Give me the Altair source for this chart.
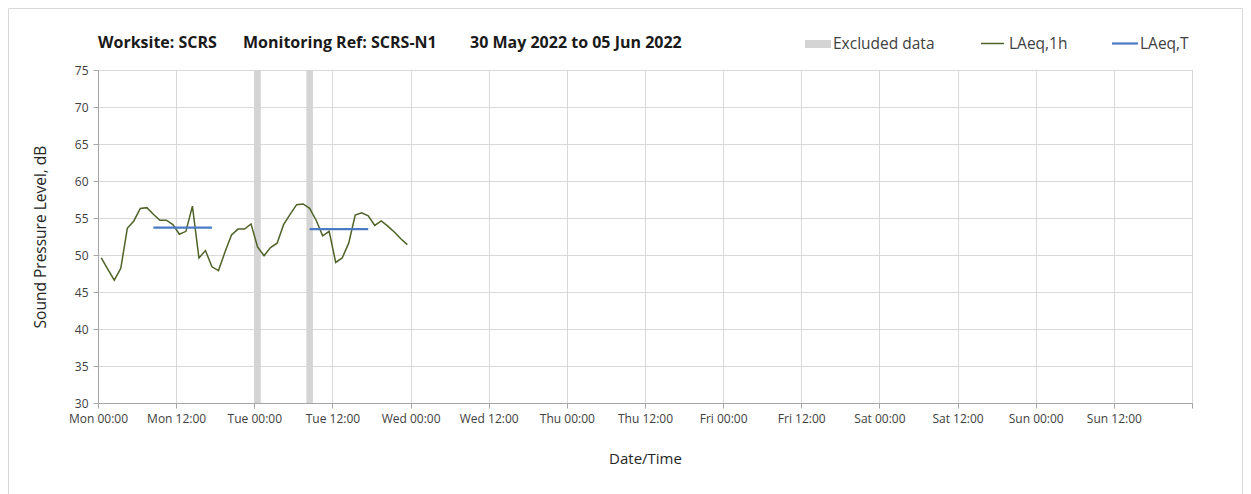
import json
import altair as alt
import pandas as pd

# ---- data ----
tick_hours = [0, 12, 24, 36, 48, 60, 72, 84, 96, 108, 120, 132, 144, 156, 168]
tick_labels = ["Mon 00:00", "Mon 12:00", "Tue 00:00", "Tue 12:00", "Wed 00:00", "Wed 12:00",
               "Thu 00:00", "Thu 12:00", "Fri 00:00", "Fri 12:00", "Sat 00:00", "Sat 12:00",
               "Sun 00:00", "Sun 12:00", ""]
y_ticks = [30, 35, 40, 45, 50, 55, 60, 65, 70, 75]

hour_1h = [0.5, 1.5, 2.5, 3.5, 4.5, 5.5, 6.5, 7.5, 8.5, 9.5, 10.5, 11.5,
           12.5, 13.5, 14.5, 15.5, 16.5, 17.5, 18.5, 19.5, 20.5, 21.5, 22.5, 23.5,
           24.5, 25.5, 26.5, 27.5, 28.5, 29.5, 30.5, 31.5, 32.5, 33.5, 34.5, 35.5,
           36.5, 37.5, 38.5, 39.5, 40.5, 41.5, 42.5, 43.5, 44.5, 45.5, 46.5, 47.5]
laeq_1h = [49.6, 48.1, 46.6, 48.2, 53.6, 54.6, 56.3, 56.4, 55.5, 54.7, 54.7, 54.1,
           52.8, 53.2, 56.6, 49.6, 50.6, 48.4, 47.9, 50.4, 52.7, 53.5, 53.5, 54.2,
           51.1, 49.9, 51.0, 51.6, 54.1, 55.5, 56.8, 56.9, 56.3, 54.7, 52.6, 53.2,
           49.0, 49.6, 51.6, 55.4, 55.7, 55.3, 54.0, 54.6, 53.9, 53.1, 52.2, 51.4]

laeqT_start = [8.5, 32.5]
laeqT_end = [17.5, 41.5]
laeqT_value = [53.7, 53.5]

excl_start = [24, 32]
excl_end = [25, 33]

title_parts = ["Worksite: SCRS", "Monitoring Ref: SCRS-N1", "30 May 2022 to 05 Jun 2022"]
legend_labels = ["Excluded data", "LAeq,1h", "LAeq,T"]

# ---- styling ----
W, H = 1094, 333
GREEN = "#4F6228"
BLUE = "#4A7BC4"
EXCL = "#D4D4D4"
GRID = "#D9D9D9"
FONT = "Open Sans"

df_line = pd.DataFrame({"t": hour_1h, "db": laeq_1h})
df_T = pd.DataFrame({"t": laeqT_start, "t2": laeqT_end, "db": laeqT_value})
df_ex = pd.DataFrame({"t": excl_start, "t2": excl_end,
                      "db": [y_ticks[0]] * len(excl_start), "db2": [y_ticks[-1]] * len(excl_start)})

xscale = alt.Scale(domain=[0, 168], nice=False, zero=False)
yscale = alt.Scale(domain=[30, 75], nice=False, zero=False)

label_expr = json.dumps(tick_labels) + "[round(datum.value / 12)]"

x_axis = alt.Axis(values=tick_hours, labelExpr=label_expr, grid=True, gridColor=GRID,
                  domainColor="#A6A6A6", tickColor="#A6A6A6", tickSize=5, zindex=0,
                  labelPadding=5, labelFontSize=12, labelColor="#404040",
                  labelOverlap=False, labelFont=FONT,
                  title="Date/Time", titleFontSize=15, titleFontWeight="normal",
                  titleColor="#262626", titlePadding=27, titleFont=FONT, labelFlush=False)
y_axis = alt.Axis(values=y_ticks, grid=True, gridColor=GRID, domainColor="#A6A6A6",
                  tickColor="#A6A6A6", tickSize=5, labelPadding=5, labelFontSize=12,
                  labelColor="#404040", labelOverlap=False, labelFont=FONT, zindex=0,
                  title="Sound Pressure Level, dB", titleFontSize=15.5, titleFont=FONT,
                  titleFontWeight="normal", titleColor="#262626", titlePadding=26)

one = pd.DataFrame({"k": [0]})

border = alt.Chart(one).mark_rect(filled=False, stroke="#D9D9D9", strokeWidth=1).encode(
    x=alt.value(-89.5), x2=alt.value(W + 50.5), y=alt.value(-61.5), y2=alt.value(H + 120))

excluded = alt.Chart(df_ex).mark_rect(color=EXCL).encode(
    x=alt.X("t:Q", scale=xscale, axis=x_axis),
    x2="t2:Q",
    y=alt.Y("db:Q", scale=yscale, axis=y_axis),
    y2="db2:Q",
)

line = alt.Chart(df_line).mark_line(color=GREEN, strokeWidth=1.5).encode(
    x=alt.X("t:Q", scale=xscale, axis=x_axis),
    y=alt.Y("db:Q", scale=yscale, axis=y_axis),
)

rule_T = alt.Chart(df_T).mark_rule(color=BLUE, strokeWidth=2.2).encode(
    x=alt.X("t:Q", scale=xscale, axis=x_axis),
    x2="t2:Q",
    y=alt.Y("db:Q", scale=yscale, axis=y_axis),
)

title_layers = []
for txt, px in zip(title_parts, [0, 145, 372]):
    title_layers.append(
        alt.Chart(one).mark_text(text=txt, font=FONT, fontSize=16, fontWeight="bold",
                                 color="#1a1a1a", align="left", baseline="middle").encode(
            x=alt.value(px), y=alt.value(-27))
    )

leg_rect = alt.Chart(one).mark_rect(color=EXCL).encode(
    x=alt.value(707), x2=alt.value(733), y=alt.value(-30), y2=alt.value(-22))
leg_green = alt.Chart(one).mark_rule(color=GREEN, strokeWidth=1.5).encode(
    x=alt.value(883), x2=alt.value(906), y=alt.value(-26.5))
leg_blue = alt.Chart(one).mark_rule(color=BLUE, strokeWidth=2.2).encode(
    x=alt.value(1014), x2=alt.value(1040), y=alt.value(-26.5))
leg_texts = []
for txt, px in zip(legend_labels, [735, 911, 1042]):
    leg_texts.append(
        alt.Chart(one).mark_text(text=txt, font=FONT, fontSize=15.5, color="#404040",
                                 align="left", baseline="middle").encode(
            x=alt.value(px), y=alt.value(-26))
    )

chart = alt.layer(
    border, excluded, line, rule_T, *title_layers, leg_rect, leg_green, leg_blue, *leg_texts
).properties(
    width=W, height=H,
    autosize=alt.AutoSizeParams(type="none"),
    padding={"left": 90, "top": 62, "right": 51, "bottom": 91},
).configure(font=FONT).configure_view(stroke="#ABABAB", strokeWidth=1)

chart.save("out.html", embed_options={"renderer": "svg", "actions": False})
